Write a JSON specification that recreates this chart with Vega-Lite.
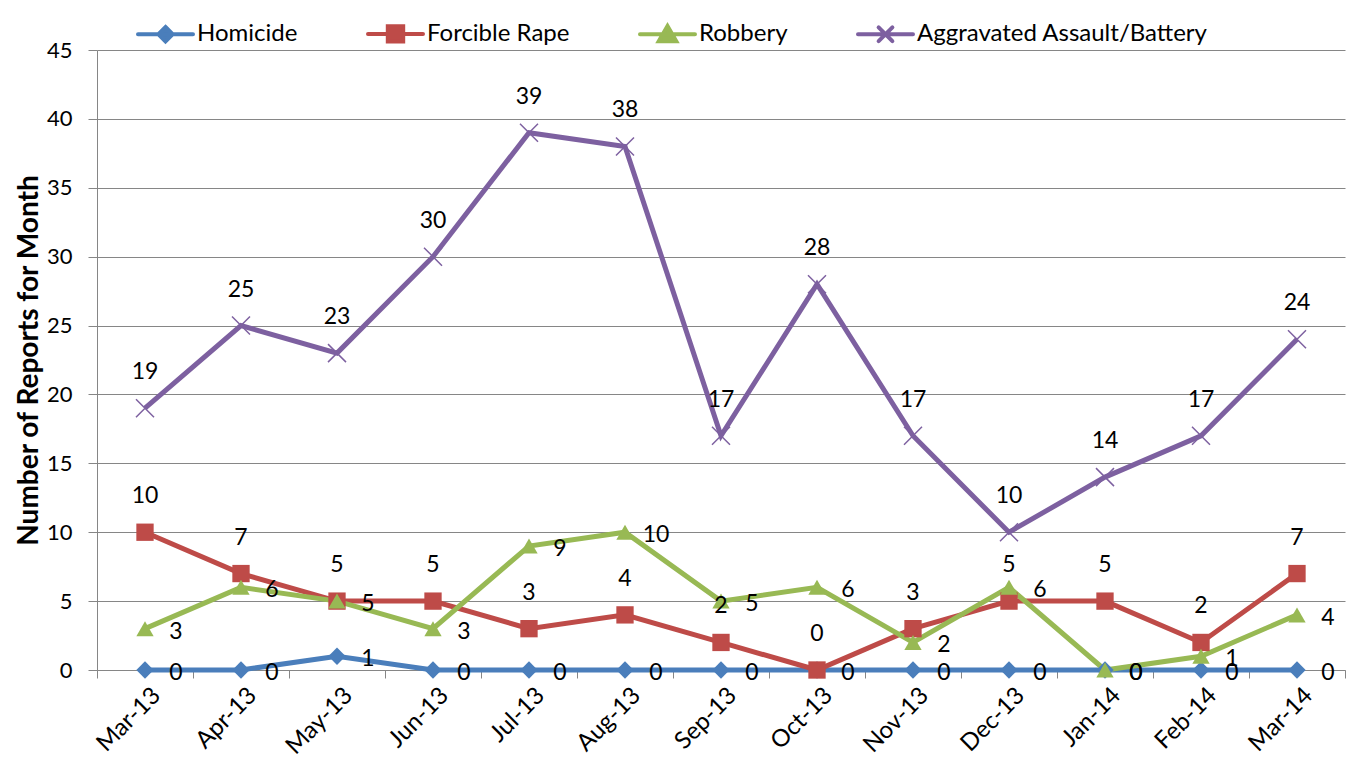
{
  "$schema": "https://vega.github.io/schema/vega-lite/v6.json",
  "width": 1248,
  "height": 620,
  "autosize": "none",
  "padding": {"left": 97, "top": 50, "right": 11, "bottom": 102},
  "background": "white",
  "config": {"font": "Lato", "view": {"stroke": null}},
  "data": {"values": [
    {"month": "Mar-13", "series": "Homicide", "value": 0},
    {"month": "Apr-13", "series": "Homicide", "value": 0},
    {"month": "May-13", "series": "Homicide", "value": 1},
    {"month": "Jun-13", "series": "Homicide", "value": 0},
    {"month": "Jul-13", "series": "Homicide", "value": 0},
    {"month": "Aug-13", "series": "Homicide", "value": 0},
    {"month": "Sep-13", "series": "Homicide", "value": 0},
    {"month": "Oct-13", "series": "Homicide", "value": 0},
    {"month": "Nov-13", "series": "Homicide", "value": 0},
    {"month": "Dec-13", "series": "Homicide", "value": 0},
    {"month": "Jan-14", "series": "Homicide", "value": 0},
    {"month": "Feb-14", "series": "Homicide", "value": 0},
    {"month": "Mar-14", "series": "Homicide", "value": 0},
    {"month": "Mar-13", "series": "Forcible Rape", "value": 10},
    {"month": "Apr-13", "series": "Forcible Rape", "value": 7},
    {"month": "May-13", "series": "Forcible Rape", "value": 5},
    {"month": "Jun-13", "series": "Forcible Rape", "value": 5},
    {"month": "Jul-13", "series": "Forcible Rape", "value": 3},
    {"month": "Aug-13", "series": "Forcible Rape", "value": 4},
    {"month": "Sep-13", "series": "Forcible Rape", "value": 2},
    {"month": "Oct-13", "series": "Forcible Rape", "value": 0},
    {"month": "Nov-13", "series": "Forcible Rape", "value": 3},
    {"month": "Dec-13", "series": "Forcible Rape", "value": 5},
    {"month": "Jan-14", "series": "Forcible Rape", "value": 5},
    {"month": "Feb-14", "series": "Forcible Rape", "value": 2},
    {"month": "Mar-14", "series": "Forcible Rape", "value": 7},
    {"month": "Mar-13", "series": "Robbery", "value": 3},
    {"month": "Apr-13", "series": "Robbery", "value": 6},
    {"month": "May-13", "series": "Robbery", "value": 5},
    {"month": "Jun-13", "series": "Robbery", "value": 3},
    {"month": "Jul-13", "series": "Robbery", "value": 9},
    {"month": "Aug-13", "series": "Robbery", "value": 10},
    {"month": "Sep-13", "series": "Robbery", "value": 5},
    {"month": "Oct-13", "series": "Robbery", "value": 6},
    {"month": "Nov-13", "series": "Robbery", "value": 2},
    {"month": "Dec-13", "series": "Robbery", "value": 6},
    {"month": "Jan-14", "series": "Robbery", "value": 0},
    {"month": "Feb-14", "series": "Robbery", "value": 1},
    {"month": "Mar-14", "series": "Robbery", "value": 4},
    {"month": "Mar-13", "series": "Aggravated Assault/Battery", "value": 19},
    {"month": "Apr-13", "series": "Aggravated Assault/Battery", "value": 25},
    {"month": "May-13", "series": "Aggravated Assault/Battery", "value": 23},
    {"month": "Jun-13", "series": "Aggravated Assault/Battery", "value": 30},
    {"month": "Jul-13", "series": "Aggravated Assault/Battery", "value": 39},
    {"month": "Aug-13", "series": "Aggravated Assault/Battery", "value": 38},
    {"month": "Sep-13", "series": "Aggravated Assault/Battery", "value": 17},
    {"month": "Oct-13", "series": "Aggravated Assault/Battery", "value": 28},
    {"month": "Nov-13", "series": "Aggravated Assault/Battery", "value": 17},
    {"month": "Dec-13", "series": "Aggravated Assault/Battery", "value": 10},
    {"month": "Jan-14", "series": "Aggravated Assault/Battery", "value": 14},
    {"month": "Feb-14", "series": "Aggravated Assault/Battery", "value": 17},
    {"month": "Mar-14", "series": "Aggravated Assault/Battery", "value": 24}
  ]},
  "encoding": {
    "x": {
      "field": "month", "type": "ordinal", "sort": null,
      "scale": {"type": "band", "paddingInner": 0, "paddingOuter": 0},
      "axis": {
        "title": null, "labelAngle": -45, "tickBand": "extent",
        "labelFontSize": 24, "labelColor": "black", "labelOffset": 3,
        "domainColor": "#868686", "tickColor": "#868686", "tickSize": 8,
        "labelPadding": 5, "grid": false
      }
    },
    "y": {
      "field": "value", "type": "quantitative",
      "scale": {"domain": [0, 45], "nice": false},
      "axis": {
        "values": [0, 5, 10, 15, 20, 25, 30, 35, 40, 45],
        "title": "Number of Reports for Month",
        "titleFontSize": 28, "titleFontWeight": "bold", "titleColor": "black",
        "titlePadding": 3,
        "labelFontSize": 22, "labelColor": "black", "labelPadding": 16,
        "gridColor": "#868686", "domainColor": "#868686", "tickColor": "#868686",
        "tickSize": 9
      }
    }
  },
  "layer": [
    {
      "mark": {"type": "line", "strokeWidth": 5},
      "encoding": {
        "color": {
          "field": "series", "type": "nominal", "sort": null,
          "scale": {
            "domain": ["Homicide", "Forcible Rape", "Robbery", "Aggravated Assault/Battery"],
            "range": ["#4A7EBB", "#BE4B48", "#98B954", "#7D60A0"]
          },
          "legend": {
            "title": null, "orient": "none", "direction": "horizontal",
            "legendX": 39, "legendY": -46, "labelLimit": 0,
            "labelFontSize": 24, "labelColor": "black", "labelOffset": 2,
            "columnPadding": 62, "symbolSize": 3025, "symbolStrokeWidth": 4,
            "encode": {
              "symbols": {
                "update": {
                  "shape": {"signal": "datum.value === 'Homicide' ? 'M-1,0L1,0M0,-0.26L0.26,0L0,0.26L-0.26,0Z' : datum.value === 'Forcible Rape' ? 'M-1,0L1,0M-0.28,-0.28L0.28,-0.28L0.28,0.28L-0.28,0.28Z' : datum.value === 'Robbery' ? 'M-1,0L1,0M0,-0.3L0.32,0.26L-0.32,0.26Z' : 'M-1,0L1,0M-0.25,-0.25L0.25,0.25M-0.25,0.25L0.25,-0.25'"},
                  "fill": {"signal": "scale('color', datum.value)"},
                  "stroke": {"signal": "scale('color', datum.value)"},
                  "strokeWidth": {"value": 4},
                  "strokeCap": {"value": "round"},
                  "opacity": {"value": 1}
                }
              }
            }
          }
        }
      }
    },
    {
      "transform": [{"filter": {"field": "series", "oneOf": ["Homicide", "Forcible Rape", "Robbery"]}}],
      "mark": {"type": "point", "filled": true, "opacity": 1, "size": 300},
      "encoding": {
        "color": {"field": "series", "type": "nominal"},
        "shape": {
          "field": "series", "type": "nominal", "legend": null,
          "scale": {"domain": ["Homicide", "Forcible Rape", "Robbery"], "range": ["diamond", "square", "triangle-up"]}
        }
      }
    },
    {
      "transform": [{"filter": {"field": "series", "equal": "Aggravated Assault/Battery"}}],
      "mark": {"type": "point", "filled": false, "opacity": 1, "size": 324, "strokeWidth": 1.5, "shape": "M-1,-1L1,1M-1,1L1,-1"},
      "encoding": {
        "color": {"field": "series", "type": "nominal"}
      }
    },
    {
      "transform": [{"filter": {"field": "series", "oneOf": ["Homicide", "Robbery"]}}],
      "mark": {"type": "text", "dx": 31, "dy": 3, "fontSize": 23, "color": "black", "align": "center", "baseline": "middle"},
      "encoding": {"text": {"field": "value", "type": "quantitative"}}
    },
    {
      "transform": [{"filter": {"field": "series", "oneOf": ["Forcible Rape", "Aggravated Assault/Battery"]}}],
      "mark": {"type": "text", "dy": -36, "fontSize": 23, "color": "black", "align": "center", "baseline": "middle"},
      "encoding": {"text": {"field": "value", "type": "quantitative"}}
    }
  ]
}
